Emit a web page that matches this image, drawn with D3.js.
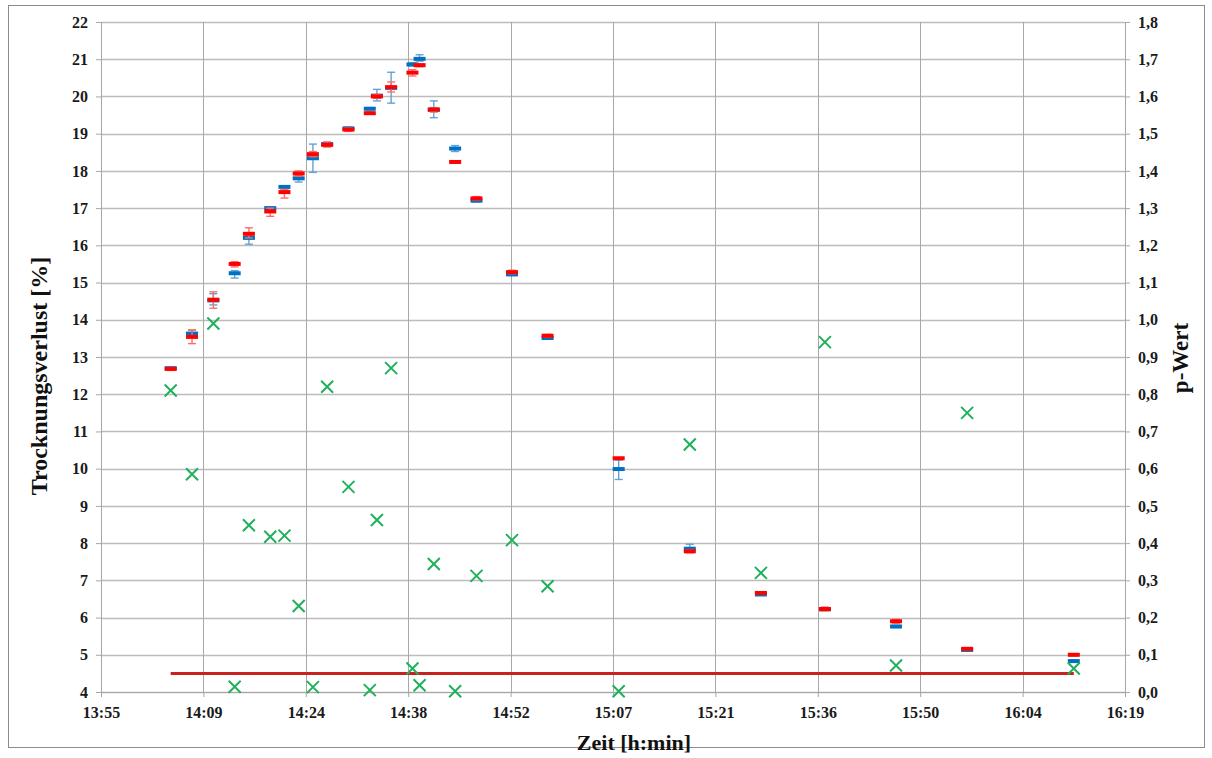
<!DOCTYPE html>
<html><head><meta charset="utf-8">
<script src="https://cdn.jsdelivr.net/npm/d3@7"></script>
<style>html,body{margin:0;padding:0;background:#fff;}svg{display:block;}</style>
</head><body><svg id="c" width="1212" height="758"></svg>
<script>
const times = ["14:05","14:08","14:11","14:14","14:16","14:19","14:21","14:23","14:25","14:27","14:30","14:33","14:34","14:36","14:39","14:40","14:42","14:45","14:48","14:53","14:58","15:08","15:18","15:28","15:37","15:47","15:57","16:12"];
const blueMed  = [12.70,13.63,14.52,15.25,16.20,17.00,17.57,17.80,18.34,18.72,19.14,19.67,20.02,20.23,20.86,21.01,19.64,18.60,17.20,15.22,13.51,9.99,7.85,6.62,6.22,5.76,5.13,4.83];
const blueLow  = [12.66,13.58,14.40,15.12,16.03,16.95,17.50,17.70,17.96,18.68,19.10,19.64,19.88,19.82,20.82,20.95,19.43,18.52,17.17,15.19,13.48,9.71,7.78,6.60,6.20,5.73,5.11,4.80];
const blueHigh = [12.73,13.72,14.70,15.32,16.28,17.03,17.60,17.86,18.72,18.76,19.18,19.70,20.19,20.65,20.90,21.12,19.88,18.68,17.24,15.26,13.55,10.23,7.97,6.65,6.24,5.79,5.16,4.86];
const redMed   = [12.68,13.54,14.54,15.50,16.31,16.91,17.43,17.93,18.45,18.70,19.11,19.55,20.00,20.25,20.64,20.84,19.65,18.24,17.26,15.28,13.57,10.28,7.78,6.66,6.23,5.90,5.16,5.00];
const redLow   = [12.64,13.36,14.31,15.42,16.20,16.78,17.27,17.86,18.38,18.64,19.06,19.52,19.95,20.12,20.55,20.80,19.58,18.21,17.22,15.24,13.53,10.27,7.74,6.64,6.18,5.85,5.13,4.97];
const redHigh  = [12.72,13.73,14.75,15.56,16.47,17.00,17.50,18.00,18.52,18.78,19.15,19.58,20.06,20.39,20.72,20.88,19.70,18.27,17.31,15.33,13.61,10.29,7.82,6.68,6.28,5.95,5.19,5.03];
const pValues  = [0.81,0.585,0.99,0.014,0.448,0.417,0.42,0.231,0.013,0.82,0.551,0.005,0.462,0.87,0.063,0.018,0.344,0.002,0.312,0.408,0.284,0.002,0.665,0.32,0.94,0.071,0.75,0.063];
const pLimit = 0.05;
const pLimitRange = ["14:05","16:12"];
const leftTicks = d3.range(4, 23, 1);
const rightTicks = d3.range(0, 19, 1).map(d => d / 10);
const xStart = 835.2, xStep = 14.4, xCount = 10; // minutes of day (Excel 0.58..0.68 days)

const toMin = s => { const [h, m] = s.split(":").map(Number); return h * 60 + m; };
const fmtTime = m => { const h = Math.floor(m / 60), mm = Math.floor(m % 60 + 1e-6); return h + ":" + String(mm).padStart(2, "0"); };

const L = 101, R = 1125, T = 22, B = 692;
const svg = d3.select("#c");
const font = "'Liberation Serif', 'Times New Roman', serif";

const x = d3.scaleLinear().domain([xStart, xStart + xStep * xCount]).range([L, R]);
const y = d3.scaleLinear().domain([4, 22]).range([B, T]);
const y2 = d3.scaleLinear().domain([0, 1.8]).range([B, T]);
const xTicks = d3.range(0, xCount + 1).map(i => xStart + xStep * i);

// outer border
svg.append("rect").attr("x", 8.5).attr("y", 5.5).attr("width", 1196).attr("height", 742)
  .attr("fill", "#fff").attr("stroke", "#8c8c8c").attr("stroke-width", 1);

// grid
const g = svg.append("g");
g.selectAll(".hg").data(leftTicks).join("line")
  .attr("x1", L).attr("x2", R).attr("y1", d => Math.round(y(d)) + 0.5).attr("y2", d => Math.round(y(d)) + 0.5)
  .attr("stroke", "#bcbcbc").attr("stroke-width", 1.3);
g.selectAll(".vg").data(xTicks).join("line")
  .attr("y1", T).attr("y2", B).attr("x1", d => Math.round(x(d)) + 0.5).attr("x2", d => Math.round(x(d)) + 0.5)
  .attr("stroke", "#a8a8a8").attr("stroke-width", 1);

// axes
const axStyle = sel => {
  sel.attr("font-family", null).attr("font-size", null);
  sel.select(".domain").attr("stroke", "#a6a6a6");
  sel.selectAll(".tick line").attr("stroke", "#a6a6a6");
  sel.selectAll("text").style("font-family", font).style("font-weight", "bold").style("font-size", "16px").attr("fill", "#1a1a1a");
};
svg.append("g").attr("transform", `translate(${L},0)`)
  .call(d3.axisLeft(y).tickValues(leftTicks).tickFormat(d3.format("d")).tickSize(5).tickSizeOuter(0).tickPadding(8))
  .call(axStyle);
svg.append("g").attr("transform", `translate(${R},0)`)
  .call(d3.axisRight(y2).tickValues(rightTicks).tickFormat(d => d.toFixed(1).replace(".", ",")).tickSize(5).tickSizeOuter(0).tickPadding(8))
  .call(axStyle);
svg.append("g").attr("transform", `translate(0,${B})`)
  .call(d3.axisBottom(x).tickValues(xTicks).tickFormat(fmtTime).tickSize(5).tickSizeOuter(0).tickPadding(10))
  .call(axStyle);

// axis titles
const title = (sel, size) => sel.attr("text-anchor", "middle").style("font-family", font)
  .style("font-weight", "bold").style("font-size", size + "px").attr("fill", "#111");
svg.append("text").attr("transform", `translate(47,376) rotate(-90)`).call(title, 24)
  .text("Trocknungsverlust [%]");
svg.append("text").attr("transform", `translate(1188,358) rotate(-90)`).call(title, 23)
  .text("p-Wert");
svg.append("text").attr("x", 634).attr("y", 750).call(title, 22)
  .text("Zeit [h:min]");

// p limit line
svg.append("line")
  .attr("x1", x(toMin(pLimitRange[0]))).attr("x2", x(toMin(pLimitRange[1])))
  .attr("y1", y2(pLimit)).attr("y2", y2(pLimit))
  .attr("stroke", "#c9211e").attr("stroke-width", 3);

// box markers
function drawSeries(med, lo, hi, color, light) {
  const s = svg.append("g");
  const d = times.map((t, i) => ({ t: toMin(t), m: med[i], lo: lo[i], hi: hi[i] }));
  const grp = s.selectAll("g").data(d).join("g").attr("transform", p => `translate(${x(p.t)},0)`);
  grp.append("line").attr("x1", 0).attr("x2", 0).attr("y1", p => y(p.lo)).attr("y2", p => y(p.hi))
    .attr("stroke", light).attr("stroke-width", 1.4);
  grp.append("line").attr("x1", -4).attr("x2", 4).attr("y1", p => y(p.lo)).attr("y2", p => y(p.lo))
    .attr("stroke", light).attr("stroke-width", 1.4);
  grp.append("line").attr("x1", -4).attr("x2", 4).attr("y1", p => y(p.hi)).attr("y2", p => y(p.hi))
    .attr("stroke", light).attr("stroke-width", 1.4);
  grp.append("rect").attr("x", -6).attr("width", 12).attr("y", p => y(p.m) - 2).attr("height", 4)
    .attr("fill", color);
}
drawSeries(blueMed, blueLow, blueHigh, "#0070c0", "#5fa3d9");
drawSeries(redMed, redLow, redHigh, "#ff0000", "#ff6b6b");

// p-values (green crosses)
const cs = 6;
const gp = svg.append("g").selectAll("g").data(times.map((t, i) => ({ t: toMin(t), p: pValues[i] }))).join("g")
  .attr("transform", d => `translate(${x(d.t)},${y2(d.p)})`);
gp.append("path").attr("d", `M${-cs},${-cs}L${cs},${cs}M${-cs},${cs}L${cs},${-cs}`)
  .attr("stroke", "#1fb15a").attr("stroke-width", 2).attr("fill", "none");
</script></body></html>
